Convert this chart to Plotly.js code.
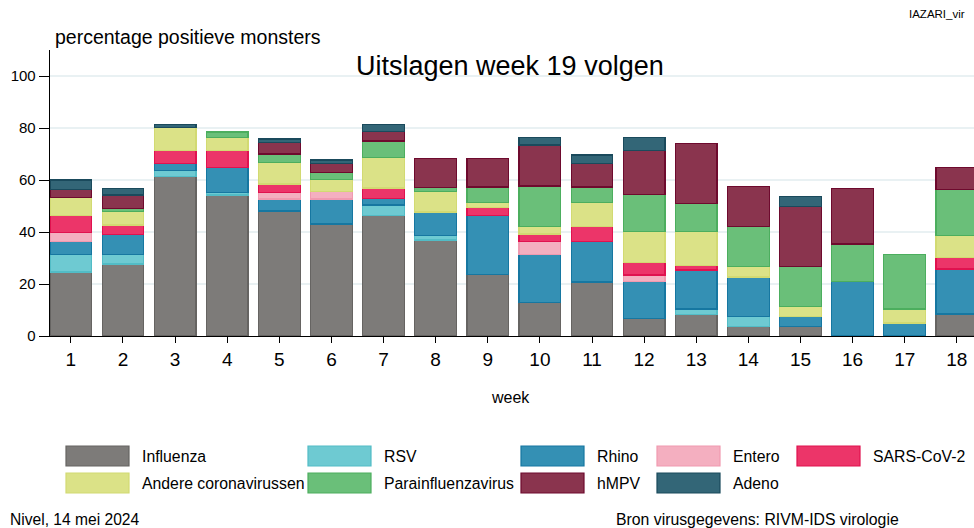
<!DOCTYPE html>
<html>
<head>
<meta charset="utf-8">
<script src="https://cdn.plot.ly/plotly-3.0.1.min.js"></script>
<style>html,body{margin:0;padding:0;background:#fff;}#chart{width:974px;height:528px;}</style>
</head>
<body>
<div id="chart"></div>
<script>
const weeks = [1,2,3,4,5,6,7,8,9,10,11,12,13,14,15,16,17,18];
const influenza = [24.6, 27.7, 61.5, 54.2, 48.1, 43.1, 46.5, 36.9, 23.8, 12.8, 20.8, 6.8, 8.2, 3.6, 3.6, 0, 0, 8.5];
const rsv       = [6.8, 3.8, 2.3, 0.9, 0, 0, 3.9, 1.7, 0, 0, 0, 0, 2.2, 3.8, 0, 0, 0, 0];
const rhino     = [5.1, 7.5, 2.6, 9.8, 4.6, 9.6, 2.4, 9.1, 22.4, 18.5, 15.4, 14.2, 15.0, 15.3, 3.8, 21.0, 5.0, 17.3];
const entero    = [3.3, 0, 0, 0, 2.4, 2.8, 0, 0, 0, 5.2, 0, 2.5, 0, 0, 0, 0, 0, 0];
const sars      = [6.4, 3.7, 4.8, 6.6, 3.4, 0, 4.1, 0, 3.3, 2.7, 5.8, 4.7, 1.8, 0, 0, 0, 0, 4.3];
const andere    = [7.0, 5.2, 9.1, 4.9, 8.2, 4.8, 11.7, 7.8, 2.0, 2.8, 9.3, 12.1, 12.9, 4.0, 3.9, 0, 5.4, 8.7];
const para      = [0, 1.2, 0, 2.1, 3.3, 2.5, 6.4, 1.7, 5.8, 15.7, 6.0, 14.1, 10.8, 15.3, 15.4, 14.4, 21.0, 17.4];
const hmpv      = [3.3, 5.1, 0, 0, 4.4, 3.6, 3.8, 11.1, 11.0, 15.8, 9.1, 16.8, 23.2, 15.4, 23.0, 21.4, 0, 8.7];
const adeno     = [3.5, 2.6, 1.2, 0, 1.4, 1.3, 2.7, 0, 0, 2.7, 3.2, 5.0, 0, 0, 3.9, 0, 0, 0];

const seriesNames = ["Influenza","RSV","Rhino","Entero","SARS-CoV-2","Andere coronavirussen","Parainfluenzavirus","hMPV","Adeno"];
const seriesData = [influenza, rsv, rhino, entero, sars, andere, para, hmpv, adeno];
const fills =   ["#7d7b79","#6ecad2","#3490b4","#f4afc0","#ec3569","#dbe287","#6abf79","#8a344e","#336677"];
const borders = ["#666462","#52bcc6","#1677a1","#f09ab0","#e0124f","#d2da72","#4cae5e","#6e0a2e","#1a4a5c"];

const FONT = "Liberation Sans, Arial, sans-serif";
const L = 50, R = 974, T = 50, B = 336;
const px2x = p => (p - L) / (R - L);
const py2y = p => (B - p) / (B - T);

const traces = seriesData.map((d, i) => ({
  type: "bar",
  name: seriesNames[i],
  x: weeks,
  y: d.map(v => v === 0 ? null : v),
  marker: {color: fills[i], line: {color: borders[i], width: 1.2}},
  showlegend: false,
  hoverinfo: "name+y"
}));

// custom legend (big swatches as in reference)
const legendCols = [66, 308, 521, 657, 797];
const legendRows = [456, 483];
const layoutOrder = [
  [0,0],[0,1],[0,2],[0,3],[0,4],
  [1,0],[1,1],[1,2],[1,3]
];
const shapes = [];
const annotations = [];
layoutOrder.forEach((rc, i) => {
  const cx = legendCols[rc[1]], cy = legendRows[rc[0]];
  shapes.push({type:"rect", xref:"paper", yref:"paper",
    x0: px2x(cx), x1: px2x(cx + 63), y0: py2y(cy + 10), y1: py2y(cy - 10),
    fillcolor: fills[i], line: {color: borders[i], width: 1.2}});
  annotations.push({xref:"paper", yref:"paper", x: px2x(cx + 74), y: py2y(cy),
    xanchor:"left", yanchor:"middle", showarrow:false, text: seriesNames[i],
    font:{family:FONT, size:15.8, color:"#000"}});
});

annotations.push(
  {xref:"paper", yref:"paper", x: px2x(53), y: py2y(37), xanchor:"left", yanchor:"middle", showarrow:false,
   text:"percentage positieve monsters", font:{family:FONT, size:19.5, color:"#000"}},
  {xref:"paper", yref:"paper", x: px2x(510), y: py2y(66), xanchor:"center", yanchor:"middle", showarrow:false,
   text:"Uitslagen week 19 volgen", font:{family:FONT, size:27, color:"#000"}},
  {xref:"paper", yref:"paper", x: px2x(967), y: py2y(14), xanchor:"right", yanchor:"middle", showarrow:false,
   text:"IAZARI_vir", font:{family:FONT, size:11.5, color:"#000"}},
  {xref:"paper", yref:"paper", x: px2x(510), y: py2y(398), xanchor:"center", yanchor:"middle", showarrow:false,
   text:"week", font:{family:FONT, size:16, color:"#000"}},
  {xref:"paper", yref:"paper", x: px2x(8), y: py2y(519), xanchor:"left", yanchor:"middle", showarrow:false,
   text:"Nivel, 14 mei 2024", font:{family:FONT, size:15.6, color:"#000"}},
  {xref:"paper", yref:"paper", x: px2x(757), y: py2y(519), xanchor:"center", yanchor:"middle", showarrow:false,
   text:"Bron virusgegevens: RIVM-IDS virologie", font:{family:FONT, size:15.8, color:"#000"}}
);

const layout = {
  width: 974, height: 528,
  margin: {l: L, r: 974 - R, t: T, b: 528 - B},
  paper_bgcolor: "#fff", plot_bgcolor: "#fff",
  barmode: "stack",
  bargap: 0.2,
  font: {family: FONT, color: "#000"},
  xaxis: {
    range: [0.6, 18.33], tickmode: "array", tickvals: weeks, ticktext: weeks.map(String),
    ticks: "outside", ticklen: 6, tickcolor: "#000", tickwidth: 1,
    showline: true, linecolor: "#000", linewidth: 1.3, showgrid: false, zeroline: false,
    tickfont: {family: FONT, size: 19, color: "#000"}
  },
  yaxis: {
    range: [0, 110], tickvals: [0,20,40,60,80,100],
    ticks: "outside", ticklen: 10, tickcolor: "#000", tickwidth: 1,
    showline: true, linecolor: "#000", linewidth: 1.3,
    showgrid: true, gridcolor: "#e9f1f3", gridwidth: 1.5, zeroline: false,
    tickfont: {family: FONT, size: 15, color: "#000"}
  },
  shapes: shapes,
  annotations: annotations
};

Plotly.newPlot("chart", traces, layout, {displayModeBar: false, staticPlot: true});
</script>
</body>
</html>
